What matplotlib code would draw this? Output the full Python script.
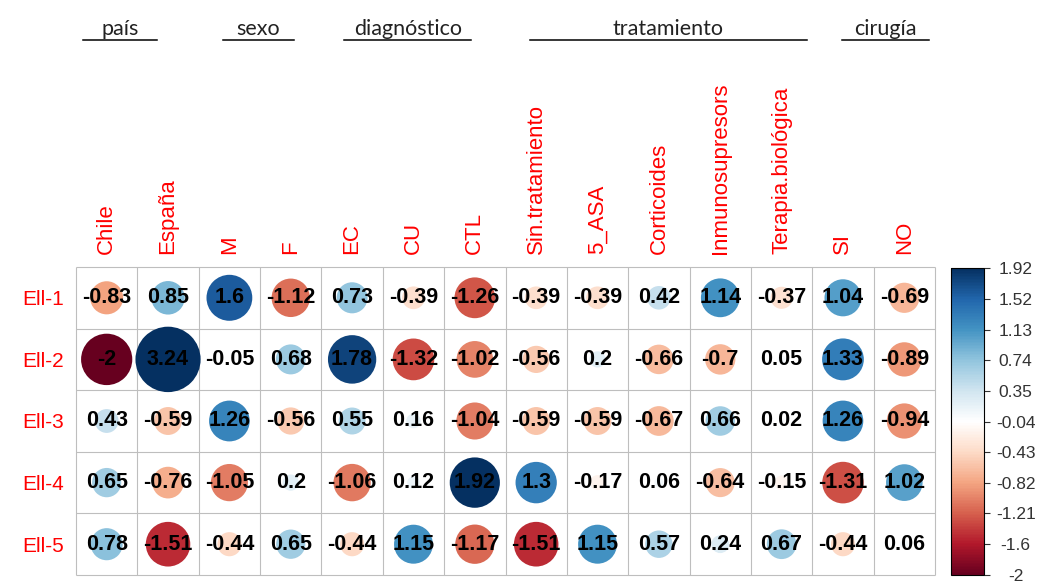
import numpy as np
import matplotlib
matplotlib.use('Agg')
import matplotlib.pyplot as plt
from matplotlib.colors import LinearSegmentedColormap, Normalize
from matplotlib.cm import ScalarMappable
from matplotlib.patches import Circle
from matplotlib.transforms import blended_transform_factory

plt.rcParams['font.family'] = ['Liberation Sans', 'DejaVu Sans']

# data
rows = ['Ell-1', 'Ell-2', 'Ell-3', 'Ell-4', 'Ell-5']
cols = ['Chile', 'España', 'M', 'F', 'EC', 'CU', 'CTL', 'Sin.tratamiento', '5_ASA',
        'Corticoides', 'Inmunosupresors', 'Terapia.biológica', 'SI', 'NO']
ell_1 = [-0.83, 0.85, 1.6, -1.12, 0.73, -0.39, -1.26, -0.39, -0.39, 0.42, 1.14, -0.37, 1.04, -0.69]
ell_2 = [-2, 3.24, -0.05, 0.68, 1.78, -1.32, -1.02, -0.56, 0.2, -0.66, -0.7, 0.05, 1.33, -0.89]
ell_3 = [0.43, -0.59, 1.26, -0.56, 0.55, 0.16, -1.04, -0.59, -0.59, -0.67, 0.66, 0.02, 1.26, -0.94]
ell_4 = [0.65, -0.76, -1.05, 0.2, -1.06, 0.12, 1.92, 1.3, -0.17, 0.06, -0.64, -0.15, -1.31, 1.02]
ell_5 = [0.78, -1.51, -0.44, 0.65, -0.44, 1.15, -1.17, -1.51, 1.15, 0.57, 0.24, 0.67, -0.44, 0.06]
groups = ['país', 'sexo', 'diagnóstico', 'tratamiento', 'cirugía']
cbar_labels = ['-2', '-1.6', '-1.21', '-0.82', '-0.43', '-0.04', '0.35', '0.74', '1.13', '1.52', '1.92']

mat = np.array([ell_1, ell_2, ell_3, ell_4, ell_5])
cbar_ticks = [float(t) for t in cbar_labels]

# RdBu palette as used by corrplot
rdbu = ['#67001F', '#B2182B', '#D6604D', '#F4A582', '#FDDBC7', '#FFFFFF',
        '#D1E5F0', '#92C5DE', '#4393C3', '#2166AC', '#053061']
cmap = LinearSegmentedColormap.from_list('corr_rdbu', rdbu, N=200)
norm = Normalize(vmin=cbar_ticks[0], vmax=cbar_ticks[-1], clip=True)

W, H = 1042, 584
fig = plt.figure(figsize=(W / 100, H / 100), dpi=100)
ax = fig.add_axes([76 / W, 1 - 575 / H, 859 / W, 308 / H])
nr, nc = mat.shape
ax.set_xlim(0, nc)
ax.set_ylim(nr, 0)
for s in ax.spines.values():
    s.set_visible(False)

# cell grid
grid_col = '#BEBEBE'
ax.hlines(np.arange(nr + 1), 0, nc, color=grid_col, lw=0.8, zorder=1, clip_on=False)
ax.vlines(np.arange(nc + 1), 0, nr, color=grid_col, lw=0.8, zorder=1, clip_on=False)

# circles + value labels
for i in range(nr):
    for j in range(nc):
        v = mat[i, j]
        r = 0.295 * np.sqrt(abs(v))
        ax.add_patch(Circle((j + 0.5, i + 0.5), r, facecolor=cmap(norm(v)),
                            edgecolor='none', zorder=2, clip_on=False))
        ax.text(j + 0.5, i + 0.5, f'{v:g}', ha='center', va='center',
                fontsize=15.5, fontweight='bold', color='black', zorder=3)

# row / column labels
ax.set_yticks(np.arange(nr) + 0.5, labels=rows)
ax.tick_params(axis='y', length=0, pad=9, labelcolor='red', labelsize=15)
ax.xaxis.tick_top()
ax.set_xticks(np.arange(nc) + 0.5, labels=cols, rotation=90)
ax.tick_params(axis='x', length=0, pad=9, labelcolor='red', labelsize=16)

# group headers with underlines (extent in column units)
header_span = [(0.11, 1.32), (2.39, 3.55), (4.37, 6.44), (7.40, 11.91), (12.48, 13.90)]
trans = blended_transform_factory(ax.transData, fig.transFigure)
for name, (x0, x1) in zip(groups, header_span):
    ax.plot([x0, x1], [1 - 40 / H, 1 - 40 / H], color='black', lw=1.1,
            transform=trans, clip_on=False)
    ax.text((x0 + x1) / 2, 1 - 35 / H, name, transform=trans, ha='center', va='baseline',
            fontsize=15.5, color='#222222', family=['Lato', 'DejaVu Sans'])

# colour legend
cax = fig.add_axes([951 / W, 1 - 575 / H, 33 / W, 307 / H])
cb = fig.colorbar(ScalarMappable(norm=norm, cmap=cmap), cax=cax, ticks=cbar_ticks)
cb.ax.set_yticklabels(cbar_labels)
cb.outline.set_linewidth(0.8)
cb.ax.tick_params(length=4.3, width=0.8, pad=18.5, labelsize=12.5, colors='#333333')
for t in cb.ax.get_yticklabels():
    t.set_ha('center')

fig.savefig('out.png', dpi=100)
